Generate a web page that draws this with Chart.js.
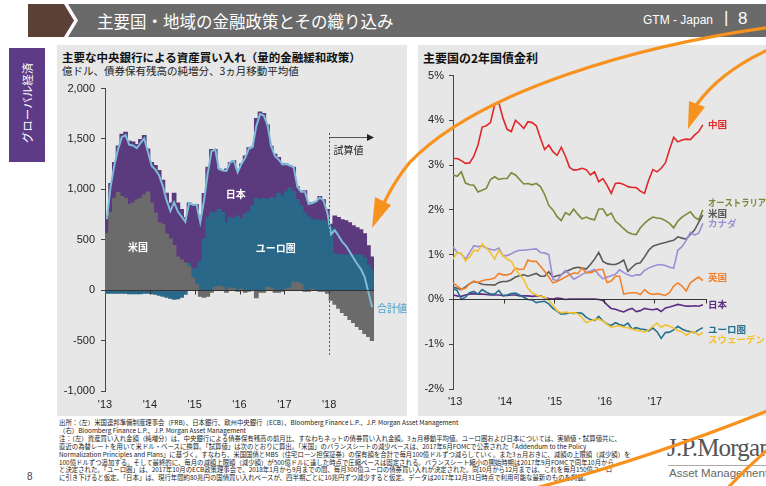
<!DOCTYPE html>
<html lang="ja">
<head>
<meta charset="utf-8">
<script src="https://cdn.jsdelivr.net/npm/chart.js@4.4.1/dist/chart.umd.min.js"></script>
<style>
  body { margin: 0; background: #fff; font-family: "Noto Sans CJK JP", "Liberation Sans", sans-serif; }
  #page { position: relative; width: 766px; height: 486px; overflow: hidden; }
  .abs { position: absolute; }
  .panel { position: absolute; background: #e7e7e7; }
  .title { position: absolute; font-weight: bold; font-size: 11.5px; color: #111; white-space: nowrap; }
  .sub { position: absolute; font-size: 10.5px; color: #222; white-space: nowrap; }
  #notes { position: absolute; left: 59px; top: 419px; font-size: 6.4px; line-height: 7.9px; color: #222; white-space: nowrap; }
</style>
</head>
<body>
<div id="page">
  <svg class="abs" style="left:0;top:0" width="766" height="40">
    <polygon points="28,4 64,4 74,20.5 64,37 28,37" fill="#5b4035"/>
    <polygon points="68,4 766,4 766,37 68,37 78,20.5" fill="#6a6a6a"/>
  </svg>
  <div class="abs" style="left:97px;top:9px;color:#fff;font-size:16.5px;white-space:nowrap">主要国・地域の金融政策とその織り込み</div>
  <div class="abs" style="left:643px;top:13px;color:#fff;font-size:12px;font-family:'Liberation Sans Narrow','Liberation Sans';">GTM - Japan</div>
  <div class="abs" style="left:724px;top:8px;color:#fff;font-size:17px;font-family:'Liberation Sans'">|</div>
  <div class="abs" style="left:738px;top:9px;color:#fff;font-size:17px;font-family:'Liberation Sans'">8</div>

  <div class="abs" style="left:9px;top:48px;width:36px;height:114px;background:#5e3b86"></div>
  <div class="abs" style="left:-16px;top:95px;width:86px;text-align:center;color:#fff;font-size:11.5px;transform:rotate(-90deg)">グローバル経済</div>

  <div class="panel" style="left:57px;top:45px;width:350px;height:371px"></div>
  <div class="panel" style="left:418px;top:45px;width:348px;height:371px"></div>

  <div class="title" style="left:62px;top:49px">主要な中央銀行による資産買い入れ（量的金融緩和政策）</div>
  <div class="sub" style="left:62px;top:63px">億ドル、債券保有残高の純増分、3ヵ月移動平均値</div>
  <div class="title" style="left:423px;top:49px;font-size:12px">主要国の2年国債金利</div>

  <canvas id="leftChart" class="abs" style="left:57px;top:76px" width="350" height="340"></canvas>
  <canvas id="rightChart" class="abs" style="left:418px;top:64px" width="348" height="352"></canvas>

  <div id="notes">
    <div>出所：（左）米国連邦準備制度理事会（FRB）、日本銀行、欧州中央銀行（ECB）、Bloomberg Finance L.P.、J.P. Morgan Asset Management</div>
    <div>（右）Bloomberg Finance L.P.、J.P. Morgan Asset Management</div>
    <div>注：（左）資産買い入れ金額（純増分）は、中央銀行による債券保有残高の前月比、すなわちネットの債券買い入れ金額。3ヵ月移動平均値。ユーロ圏および日本については、実績値・試算値共に、</div>
    <div>直近の為替レートを用いて米ドル・ベースに換算。「試算値」は次のとおりに算出。「米国」のバランスシートの減少ペースは、2017年6月FOMCで公表された「Addendum to the Policy</div>
    <div>Normalization Principles and Plans」に基づく。すなわち、米国国債とMBS（住宅ローン担保証券）の保有額を合計で毎月100億ドルずつ減らしていく。また3ヵ月おきに、減額の上限額（減少額）を</div>
    <div>100億ドルずつ追加する。そして最終的に、毎月の減額上限額（減少額）が500億ドルに達した時点で圧縮ペースは固定される。バランスシート縮小の開始時期は2017年9月FOMCで同年10月から</div>
    <div>と決定された。「ユーロ圏」は、2017年10月のECB政策理事会で、2018年1月から9月までの間、毎月300億ユーロの債券買い入れが決定された。同10月から12月までは、これを毎月150億ユーロ</div>
    <div>に引き下げると仮定。「日本」は、現行年間約80兆円の国債買い入れペースが、四半期ごとに10兆円ずつ減少すると仮定。データは2017年12月31日時点で利用可能な最新のものを掲載。</div>
  </div>
  <div class="abs" style="left:27px;top:471px;font-size:10px;color:#444;font-family:'Liberation Sans'">8</div>

  <div class="abs" style="left:667px;top:434px;font-size:25px;color:#555;font-family:'Liberation Serif';letter-spacing:-0.8px;white-space:nowrap">J.P.Morgan</div>
  <div class="abs" style="left:668px;top:465px;width:100px;height:1px;background:#aaa"></div>
  <div class="abs" style="left:669px;top:467px;font-size:11.5px;color:#666;font-family:'Liberation Sans Narrow','Liberation Sans';white-space:nowrap">Asset Management</div>

  <svg class="abs" style="left:0;top:0;z-index:10;pointer-events:none" width="766" height="486">
    <g fill="none" stroke="#f7921e" stroke-width="3.2" stroke-linecap="round">
      <path d="M 772 27 C 640 45, 480 90, 410 162 Q 395 180 384 203"/>
      <path d="M 772 48 Q 722 70 697 104"/>
      <path d="M 520 492 Q 640 462 772 409"/>
      <path d="M 724 492 Q 748 466 772 446"/>
    </g>
    <polygon points="391,205 375,197 372,228" fill="#f7921e"/>
    <polygon points="705,107 689,101 688,129" fill="#f7921e"/>
  </svg>
</div>

<script>
// ---- left: central bank asset purchases (100mn USD, 3m avg), Jan 2013 - Dec 2018
const yearLabelsLeft = ["'13", "'14", "'15", "'16", "'17", "'18"];
const usBuy = [
  560, 770, 910, 970, 930, 910, 850, 865, 895, 910, 945, 975,
  865, 767, 670, 654, 557, 508, 443, 330, 300, 270, 233, 120,
  55, -60, -70, -60, -20, 30, 40, 30, -20, 20, 20, -10,
  10, -20, -10, 0, -75, -20, -20, 30, 20, -20, -20, -10,
  10, 20, 80, 80, 60, -10, -10, 10, 0, -10, -10, -30,
  -100, -140, -180, -220, -250, -290, -320, -360, -390, -430, -460, -500
];
const euroBuy = [
  -30, -30, -30, -30, -30, -30, -35, -35, -35, -35, -30, -30,
  -35, -40, -50, -60, -70, -80, -90, -85, -70, -40, 30, 90,
  160, 284, 510, 720, 770, 740, 760, 740, 670, 700, 690, 735,
  700, 755, 775, 840, 910, 900, 910, 870, 900, 913, 961, 929,
  967, 995, 900, 820, 775, 765, 725, 690, 700, 690, 695, 680,
  620, 365, 350, 350, 350, 350, 350, 350, 350, 320, 250, 200
];
const japanBuy = [
  175, 288, 358, 460, 618, 658, 627, 606, 550, 584, 590, 425,
  403, 469, 517, 436, 404, 357, 518, 535, 500, 449, 602, 638,
  633, 451, 450, 499, 627, 627, 403, 417, 533, 548, 574, 445,
  542, 577, 638, 580, 793, 868, 842, 739, 509, 436, 355, 329,
  275, 221, 239, 126, 142, 222, 140, 165, 181, 239, 202, 120,
  35, 370, 370, 350, 340, 320, 290, 270, 250, 240, 190, 130
];
const totalBuy = usBuy.map((v, i) => v + euroBuy[i] + japanBuy[i]);

// ---- right: 2-year government bond yields (%), Jan 2013 - Jan 2018
const yearLabelsRight = ["'13", "'14", "'15", "'16", "'17"];
const china = [
  3.15, 3.15, 3.1, 3.04, 3.05, 3.2, 3.45, 3.85, 3.88, 3.95, 4.35, 4.4,
  4.05, 3.8, 3.75, 4.0, 3.92, 3.82, 3.97, 3.95, 3.88, 3.6, 3.35, 3.45,
  3.3, 3.22, 3.4, 3.2, 2.95, 2.89, 2.9, 2.93, 2.9, 2.78, 2.85, 2.63,
  2.7, 2.55, 2.37, 2.59, 2.6, 2.57, 2.52, 2.5, 2.5, 2.42, 2.37, 2.67,
  2.9, 2.85, 2.93, 3.05, 3.35, 3.62, 3.52, 3.56, 3.58, 3.57, 3.67, 3.75,
  3.9
];
const australia = [
  2.78, 2.75, 2.85, 2.6, 2.56, 2.55, 2.4, 2.44, 2.48, 2.68, 2.74, 2.68,
  2.7, 2.7, 2.83, 2.78, 2.68, 2.58, 2.59, 2.56, 2.59, 2.52, 2.35, 2.1,
  2.0, 1.85, 1.76, 1.94, 1.89, 2.02, 1.9, 1.8, 1.84, 1.8, 1.78, 2.02,
  2.02, 1.87, 1.93, 1.75, 1.67, 1.58, 1.5, 1.46, 1.45, 1.6, 1.7, 1.78,
  1.84, 1.82, 1.81, 1.76, 1.7, 1.6, 1.75, 1.84, 1.9, 1.96, 1.84, 1.78,
  2.0
];
const usYield = [
  0.28, 0.25, 0.22, 0.28, 0.35, 0.4, 0.38, 0.34, 0.33, 0.33, 0.32, 0.38,
  0.4, 0.4, 0.44, 0.5, 0.53, 0.55, 0.52, 0.55, 0.58, 0.52, 0.52, 0.62,
  0.5, 0.53, 0.55, 0.62, 0.66, 0.7, 0.72, 0.7, 0.68, 0.78, 0.9, 1.05,
  0.85, 0.8, 0.78, 0.78, 0.82, 0.88, 0.63, 0.72, 0.8, 0.82, 0.95, 1.1,
  1.19, 1.22, 1.25, 1.27, 1.3, 1.32, 1.4, 1.37, 1.35, 1.45, 1.55, 1.72,
  1.89
];
const canada = [
  1.18, 1.05, 1.02, 0.9, 1.05, 1.2, 1.18, 1.2, 1.15, 1.12, 1.1, 1.15,
  0.98, 0.98, 1.02, 1.07, 1.1, 1.1, 1.11, 1.12, 1.13, 1.05, 1.04, 1.0,
  0.45, 0.42, 0.55, 0.65, 0.56, 0.45, 0.5, 0.56, 0.6, 0.63, 0.67, 0.55,
  0.46, 0.5, 0.53, 0.56, 0.66, 0.6, 0.55, 0.52, 0.55, 0.55, 0.65, 0.7,
  0.74, 0.77, 0.78, 0.76, 0.72, 0.7, 1.1, 1.18, 1.32, 1.5, 1.44, 1.48,
  1.7
];
const uk = [
  0.37, 0.3, 0.23, 0.25, 0.35, 0.41, 0.38, 0.42, 0.44, 0.45, 0.48, 0.58,
  0.55, 0.55, 0.58, 0.7, 0.67, 0.68, 0.88, 0.85, 0.85, 0.74, 0.63, 0.5,
  0.37, 0.4, 0.45, 0.5, 0.55, 0.59, 0.58, 0.7, 0.6, 0.6, 0.63, 0.67,
  0.67, 0.38, 0.41, 0.52, 0.52, 0.12, 0.14, 0.15, 0.15, 0.11, 0.22, 0.14,
  0.11, 0.13, 0.11, 0.09, 0.15, 0.3, 0.37, 0.3, 0.19, 0.37, 0.44, 0.5,
  0.42
];
const japan = [
  0.1, 0.08, 0.07, 0.1, 0.12, 0.13, 0.12, 0.12, 0.11, 0.1, 0.1, 0.1,
  0.09, 0.09, 0.1, 0.1, 0.08, 0.08, 0.08, 0.07, 0.08, 0.08, 0.04, 0.02,
  0.01, 0.03, 0.02, 0.0, 0.01, 0.01, 0.01, 0.01, 0.01, 0.01, 0.01, 0.0,
  -0.02, -0.12, -0.2, -0.22, -0.25, -0.28, -0.23, -0.2, -0.27, -0.25, -0.2, -0.22,
  -0.23, -0.21, -0.27, -0.19, -0.17, -0.14, -0.11, -0.13, -0.15, -0.15, -0.14, -0.15,
  -0.12
];
const euroArea = [
  0.25, 0.2, 0.0, 0.05, 0.15, 0.18, 0.12, 0.22, 0.16, 0.12, 0.12, 0.2,
  0.08, 0.1, 0.13, 0.14, 0.1, 0.05, 0.0, -0.01, -0.07, -0.05, -0.04, -0.1,
  -0.2, -0.26, -0.33, -0.32, -0.3, -0.31, -0.3, -0.31, -0.4, -0.45, -0.47, -0.38,
  -0.48, -0.55, -0.58, -0.52, -0.56, -0.59, -0.53, -0.66, -0.63, -0.66, -0.67, -0.7,
  -0.64, -0.72, -0.87, -0.74, -0.73, -0.68, -0.6, -0.66, -0.7, -0.72, -0.74, -0.68,
  -0.63
];
const sweden = [
  0.9, 1.05, 1.03, 0.86, 0.95, 1.1, 1.08, 1.24, 1.15, 1.05, 0.9, 1.1,
  0.98, 0.9, 0.85, 0.68, 0.55, 0.44, 0.25, 0.15, 0.1, 0.07, 0.05, -0.02,
  -0.13, -0.25, -0.3, -0.28, -0.3, -0.3, -0.32, -0.41, -0.52, -0.48, -0.45, -0.44,
  -0.48, -0.56, -0.62, -0.6, -0.59, -0.62, -0.63, -0.66, -0.69, -0.7, -0.73, -0.68,
  -0.6, -0.53, -0.62, -0.57, -0.6, -0.64, -0.7, -0.72, -0.8, -0.74, -0.72, -0.8,
  -0.74
];

const numFont = { family: 'Liberation Sans', size: 11 };
const monthPts = (arr, off) => arr.map((v, i) => ({ x: i + off, y: v }));

// ---------------- left chart ----------------
const leftNotes = {
  id: 'leftNotes',
  afterDatasetsDraw(chart) {
    const { ctx, chartArea, scales: { x, y } } = chart;
    ctx.save();
    const y0 = Math.round(y.getPixelForValue(0)) + 0.5;
    ctx.strokeStyle = '#333';
    ctx.lineWidth = 1;
    ctx.beginPath();
    ctx.moveTo(chartArea.left, y0);
    ctx.lineTo(chartArea.right, y0);
    [12, 24, 36, 48, 60].forEach((m) => {
      const px = Math.round(x.getPixelForValue(m)) + 0.5;
      ctx.moveTo(px, y0);
      ctx.lineTo(px, y0 + 4);
    });
    ctx.stroke();

    // forecast marker
    const x18 = Math.round(x.getPixelForValue(60)) + 0.5;
    ctx.setLineDash([2, 2]);
    ctx.strokeStyle = '#555';
    ctx.beginPath();
    ctx.moveTo(x18, y.getPixelForValue(1560));
    ctx.lineTo(x18, y.getPixelForValue(-640));
    ctx.stroke();
    ctx.setLineDash([]);
    const ya = Math.round(y.getPixelForValue(1520)) + 0.5;
    const xEnd = x.getPixelForValue(72);
    ctx.beginPath();
    ctx.moveTo(x18, ya);
    ctx.lineTo(xEnd - 6, ya);
    ctx.stroke();
    ctx.fillStyle = '#222';
    ctx.beginPath();
    ctx.moveTo(xEnd, ya);
    ctx.lineTo(xEnd - 7, ya - 3.5);
    ctx.lineTo(xEnd - 7, ya + 3.5);
    ctx.closePath();
    ctx.fill();
    ctx.font = '10px "Noto Sans CJK JP"';
    ctx.textBaseline = 'middle';
    ctx.fillText('試算値', x18 + 4, y.getPixelForValue(1390));

    // series labels
    ctx.font = 'bold 10px "Noto Sans CJK JP"';
    ctx.fillStyle = '#fff';
    ctx.textAlign = 'center';
    ctx.fillText('米国', x.getPixelForValue(8.8), y.getPixelForValue(427));
    ctx.fillText('日本', x.getPixelForValue(35), y.getPixelForValue(950));
    ctx.fillText('ユーロ圏', x.getPixelForValue(45.7), y.getPixelForValue(418));
    ctx.textAlign = 'left';
    ctx.fillStyle = '#6fb3d2';
    ctx.fillText('合計値', x.getPixelForValue(72) + 3, y.getPixelForValue(-175));
    ctx.restore();
  }
};

const barCommon = {
  barPercentage: 1, categoryPercentage: 1, borderWidth: 0, inflateAmount: 0.5, stack: 'cb', order: 1
};

const leftChart = new Chart(document.getElementById('leftChart'), {
  type: 'bar',
  data: {
    datasets: [
      { ...barCommon, label: '米国', data: monthPts(usBuy, 0.5), backgroundColor: '#6b6b6b' },
      { ...barCommon, label: 'ユーロ圏', data: monthPts(euroBuy, 0.5), backgroundColor: '#2a6889' },
      { ...barCommon, label: '日本', data: monthPts(japanBuy, 0.5), backgroundColor: '#5c3a7e' },
      {
        type: 'line', label: '合計値', data: monthPts(totalBuy, 0.5), stack: 'total', order: 0,
        borderColor: '#7dbcd8', borderWidth: 2, pointRadius: 0, tension: 0
      }
    ]
  },
  options: {
    responsive: false,
    animation: false,
    layout: { padding: { left: 0, top: 8, right: 33, bottom: 3 } },
    plugins: { legend: { display: false }, tooltip: { enabled: false } },
    scales: {
      x: {
        type: 'linear', min: 0, max: 72, stacked: true, offset: false,
        afterBuildTicks: (s) => { s.ticks = [0, 12, 24, 36, 48, 60].map((v) => ({ value: v })); },
        afterFit: (s) => { s.height = 22; },
        grid: { display: false, drawTicks: false },
        border: { display: false },
        ticks: { padding: 7, color: '#222', font: numFont, maxRotation: 0, callback: (v, i) => yearLabelsLeft[i] }
      },
      y: {
        min: -1000, max: 2000, stacked: true,
        afterFit: (s) => { s.width = 48; },
        grid: { drawOnChartArea: false, tickLength: 4, color: '#444' },
        border: { color: '#444' },
        ticks: { stepSize: 500, padding: 6, color: '#222', font: numFont, callback: (v) => v.toLocaleString('en-US') }
      }
    }
  },
  plugins: [leftNotes]
});

// ---------------- right chart ----------------
const endLabels = [
  ['中国', '#e0282b', 3.9],
  ['オーストラリア', '#7c8a3a', 2.16],
  ['米国', '#555555', 1.93],
  ['カナダ', '#9a8fd3', 1.7],
  ['英国', '#f0822e', 0.49],
  ['日本', '#5b2c84', -0.11],
  ['ユーロ圏', '#23708f', -0.67],
  ['スウェーデン', '#f2c22e', -0.9]
];

const rightNotes = {
  id: 'rightNotes',
  afterDatasetsDraw(chart) {
    const { ctx, chartArea, scales: { x, y } } = chart;
    ctx.save();
    const y0 = Math.round(y.getPixelForValue(0)) + 0.5;
    ctx.strokeStyle = '#333';
    ctx.lineWidth = 1;
    ctx.beginPath();
    ctx.moveTo(chartArea.left, y0);
    ctx.lineTo(chartArea.right, y0);
    [12.5, 24.5, 36.5, 48.5, 61].forEach((m) => {
      const px = Math.round(x.getPixelForValue(m)) - 0.5;
      ctx.moveTo(px, y0);
      ctx.lineTo(px, y0 + 4);
    });
    ctx.stroke();
    ctx.font = 'bold 9.5px "Noto Sans CJK JP"';
    ctx.textBaseline = 'middle';
    endLabels.forEach(([t, c, v]) => {
      ctx.fillStyle = c;
      ctx.fillText(t, chartArea.right + 1, y.getPixelForValue(v), 58);
    });
    ctx.restore();
  }
};

const lineCommon = { borderWidth: 1.6, pointRadius: 0, tension: 0 };

const rightChart = new Chart(document.getElementById('rightChart'), {
  type: 'line',
  data: {
    datasets: [
      { ...lineCommon, label: 'スウェーデン', data: monthPts(sweden, 0), borderColor: '#f2c22e' },
      { ...lineCommon, label: 'ユーロ圏', data: monthPts(euroArea, 0), borderColor: '#23708f' },
      { ...lineCommon, label: '日本', data: monthPts(japan, 0), borderColor: '#5b2c84' },
      { ...lineCommon, label: '英国', data: monthPts(uk, 0), borderColor: '#f0822e' },
      { ...lineCommon, label: 'カナダ', data: monthPts(canada, 0), borderColor: '#9a8fd3' },
      { ...lineCommon, label: '米国', data: monthPts(usYield, 0), borderColor: '#5a5a5a' },
      { ...lineCommon, label: 'オーストラリア', data: monthPts(australia, 0), borderColor: '#7c8a3a' },
      { ...lineCommon, label: '中国', data: monthPts(china, 0), borderColor: '#e0282b' }
    ]
  },
  options: {
    responsive: false,
    animation: false,
    layout: { padding: { left: 0, top: 10, right: 59, bottom: 0 } },
    plugins: { legend: { display: false }, tooltip: { enabled: false } },
    scales: {
      x: {
        type: 'linear', min: 0, max: 61,
        afterBuildTicks: (s) => { s.ticks = [0.5, 12.5, 24.5, 36.5, 48.5].map((v) => ({ value: v })); },
        afterFit: (s) => { s.height = 27; },
        grid: { display: false, drawTicks: false },
        border: { display: false },
        ticks: { padding: 6, color: '#222', font: numFont, maxRotation: 0, callback: (v, i) => yearLabelsRight[i] }
      },
      y: {
        min: -2, max: 5,
        afterFit: (s) => { s.width = 35; },
        grid: { drawOnChartArea: false, tickLength: 4, color: '#444' },
        border: { color: '#444' },
        ticks: { stepSize: 1, padding: 5, color: '#222', font: numFont, callback: (v) => v + '%' }
      }
    }
  },
  plugins: [rightNotes]
});
</script>
</body>
</html>
